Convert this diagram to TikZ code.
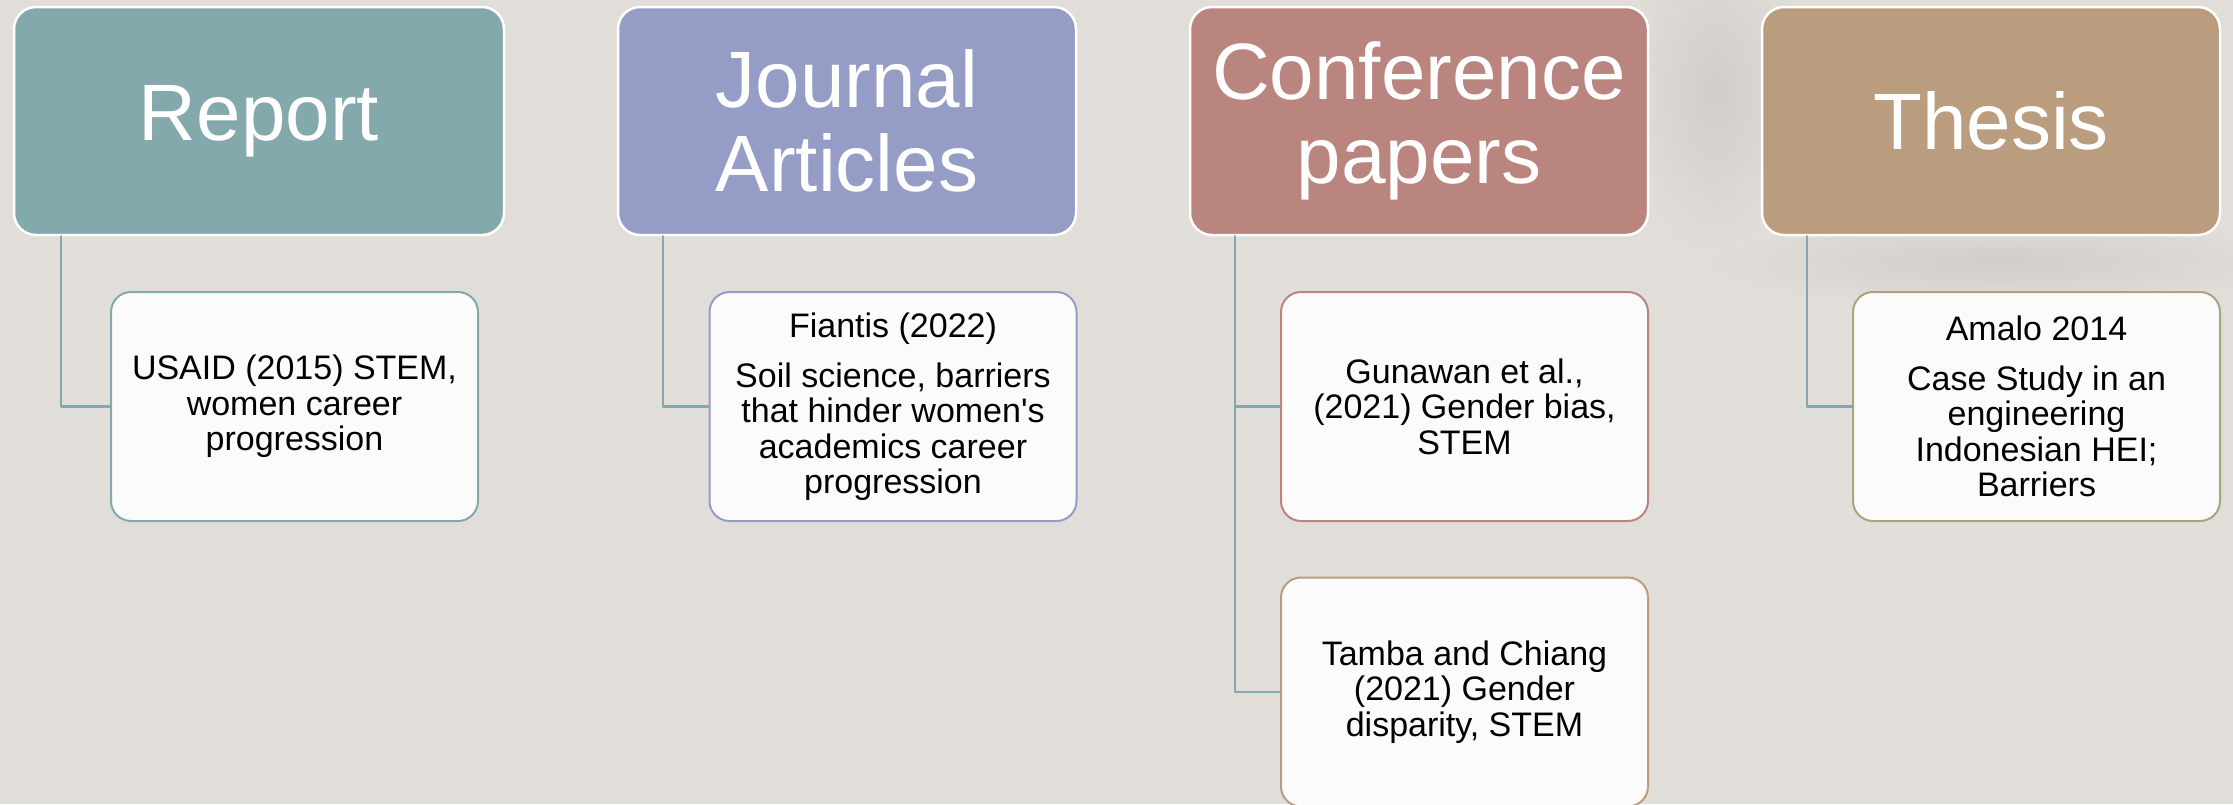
\documentclass[tikz,border=0pt]{standalone}
\usepackage{fontspec}
\setmainfont{Liberation Sans}[Ligatures=TeXOff]
\usepackage{tikz}
\definecolor{bgcol}{HTML}{E1DED9}
\definecolor{shadecol}{HTML}{D1CEC9}
\definecolor{creport}{HTML}{84A9AC}
\definecolor{cjournal}{HTML}{959CC6}
\definecolor{cconf}{HTML}{BB857F}
\definecolor{cthesis}{HTML}{BA9C7E}
\definecolor{camalo}{HTML}{A9A57A}
\definecolor{leafcol}{HTML}{FBFBFB}
\tikzstyle{head}=[rounded corners=22pt,draw=white,line width=2.5pt,text=white,font=\fontsize{80}{84}\selectfont,align=center,minimum height=228pt,inner sep=0pt]
\tikzstyle{leaf}=[rounded corners=20pt,fill=leafcol,line width=2pt,font=\fontsize{34}{35.5}\selectfont,align=center,minimum width=367pt,minimum height=229pt,inner sep=0pt]
\tikzstyle{link}=[line width=2.5pt,color=creport]

\begin{document}
\begin{tikzpicture}[line cap=round,line join=round,x=1pt,y=-1pt]
            \fill[bgcol] (0,0) rectangle (2233,804);
            \useasboundingbox (0,0) rectangle (2233,804);
            \clip (0,0) rectangle (2233,804);
            % soft shadow behind the last heading
            \shade[inner color=shadecol,outer color=bgcol] (1715,90) ellipse (90 and 170);
            \shade[inner color=shadecol,outer color=bgcol] (2000,262) ellipse (300 and 45);

            % headings
            \node[head,fill=creport,minimum width=490pt] (report) at (259,121) {Report};
            \node[head,fill=cjournal,minimum width=458pt] (journal) at (847,121) {Journal\\Articles};
            \node[head,fill=cconf,minimum width=458pt] (conf) at (1419,121) {Conference\\papers};
            \node[head,fill=cthesis,minimum width=458pt] (thesis) at (1991,121) {Thesis};

            % sources
            \node[leaf,draw=creport] (usaid) at (294.5,406.5) {USAID (2015) STEM,\\women career\\progression};
            \node[leaf,draw=cjournal] (fiantis) at (893,406.5) {Fiantis (2022)\\[14.5pt]Soil science, barriers\\that hinder women's\\academics career\\progression};
            \node[leaf,draw=cconf] (gunawan) at (1464.5,406.5) {Gunawan et al.,\\(2021) Gender bias,\\STEM};
            \node[leaf,draw=cthesis] (tamba) at (1464.5,692) {Tamba and Chiang\\(2021) Gender\\disparity, STEM};
            \node[leaf,draw=camalo] (amalo) at (2036.5,406.5) {Amalo 2014\\[14.5pt]Case Study in an\\engineering\\Indonesian HEI;\\Barriers};

            \draw[link] ([xshift=48pt]report.south west) |- (usaid.west);
            \draw[link] ([xshift=46pt]journal.south west) |- (fiantis.west);
            \draw[link] ([xshift=46pt]conf.south west) |- (gunawan.west);
            \draw[link] ([xshift=46pt]conf.south west) |- (tamba.west);
            \draw[link] ([xshift=46pt]thesis.south west) |- (amalo.west);
\end{tikzpicture}
\end{document}
